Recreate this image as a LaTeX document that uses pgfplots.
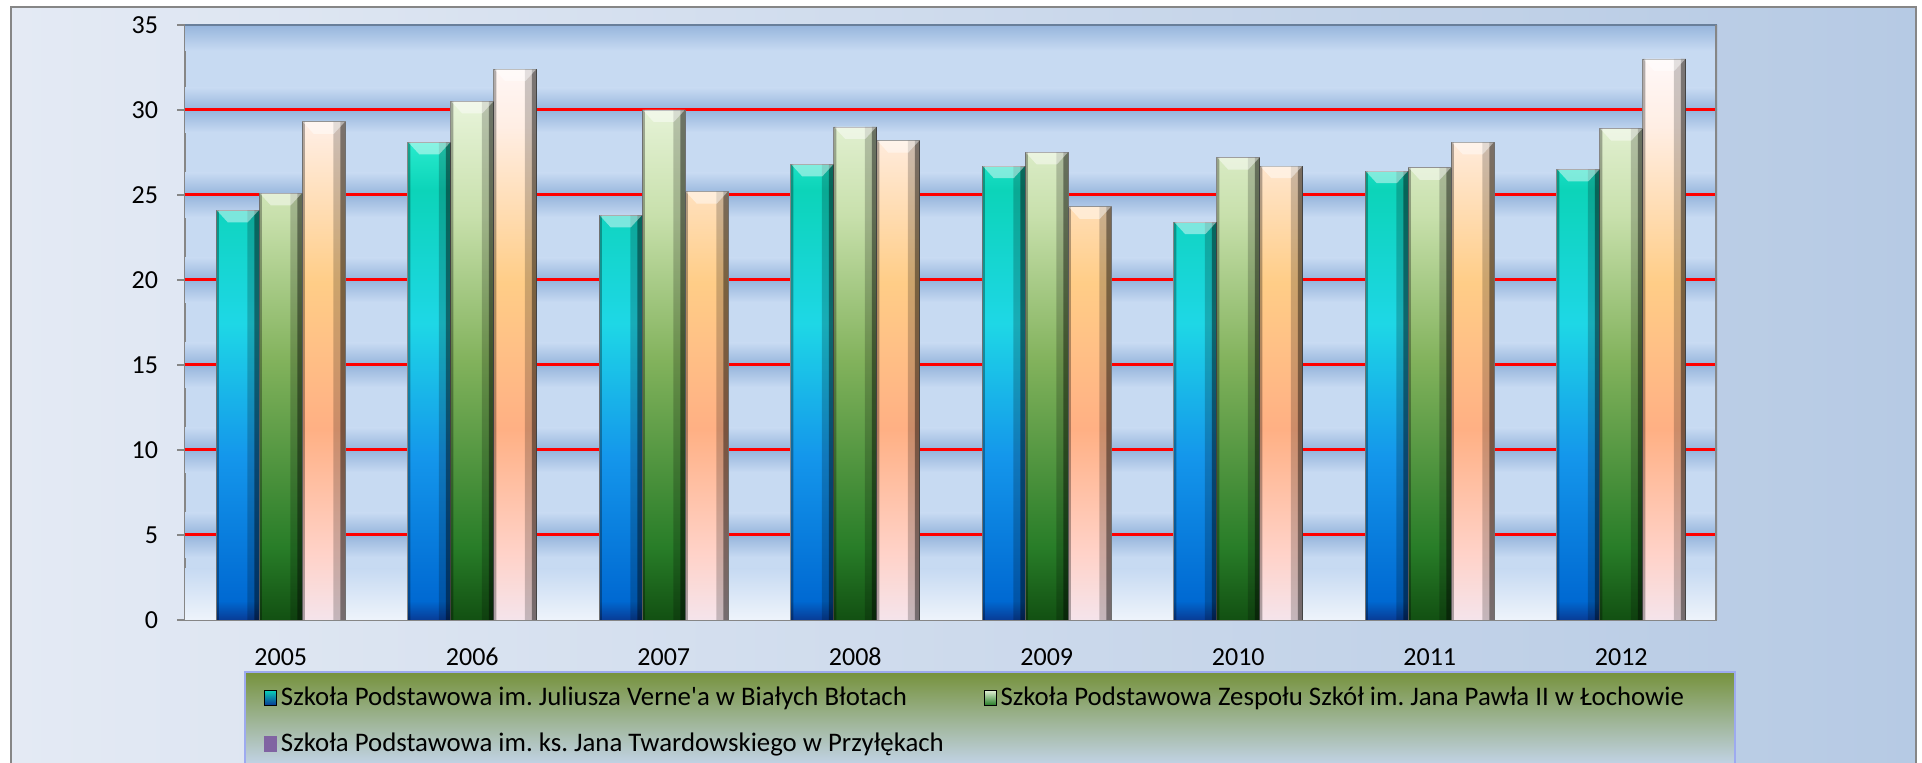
\documentclass[border=0pt]{standalone}
\usepackage{pgfplots}
\pgfplotsset{compat=1.18}
\usepackage{fontspec}
\setmainfont{Carlito}[Ligatures=TeXOff]
\frenchspacing

\definecolor{bgL}{RGB}{228,234,244}
\definecolor{bgR}{RGB}{182,202,228}
\definecolor{frame}{RGB}{134,134,134}
\definecolor{plotL}{RGB}{199,218,242}
\definecolor{plotD}{RGB}{150,181,220}
\definecolor{legG}{RGB}{118,146,60}
\definecolor{legB}{RGB}{196,213,235}
% blue bars
\definecolor{b0}{RGB}{8,60,150}
\definecolor{b1}{RGB}{0,105,210}
\definecolor{b2}{RGB}{20,150,235}
\definecolor{b3}{RGB}{30,215,230}
\definecolor{b4}{RGB}{12,212,185}
\definecolor{b5}{RGB}{40,235,205}
% green bars
\definecolor{g0}{RGB}{18,80,18}
\definecolor{g1}{RGB}{40,125,40}
\definecolor{g2}{RGB}{130,178,92}
\definecolor{g3}{RGB}{200,224,172}
\definecolor{g4}{RGB}{232,244,218}
% peach bars
\definecolor{p0}{RGB}{245,228,235}
\definecolor{p1}{RGB}{255,210,200}
\definecolor{p2}{RGB}{255,176,132}
\definecolor{p3}{RGB}{255,205,135}
\definecolor{p4}{RGB}{255,238,228}
\definecolor{p5}{RGB}{255,248,248}
\definecolor{purp}{RGB}{128,100,162}

\pgfdeclareverticalshading{blueBar}{100bp}{color(0bp)=(b0); color(25bp)=(b0); color(27bp)=(b1); color(42bp)=(b2); color(56bp)=(b3); color(70bp)=(b4); color(75bp)=(b5); color(100bp)=(b5)}
\pgfdeclareverticalshading{greenBar}{100bp}{color(0bp)=(g0); color(25bp)=(g0); color(32bp)=(g1); color(50bp)=(g2); color(64bp)=(g3); color(75bp)=(g4); color(100bp)=(g4)}
\pgfdeclareverticalshading{peachBar}{100bp}{color(0bp)=(p0); color(25bp)=(p0); color(31bp)=(p1); color(42bp)=(p2); color(55bp)=(p3); color(69bp)=(p4); color(75bp)=(p5); color(100bp)=(p5)}

% bevel highlights at the top of each bar
\newcommand\bevelmark[1]{%
  \pgfpathmoveto{\pgfpoint{#1pt-10.5pt}{0pt}}%
  \pgfpathlineto{\pgfpoint{#1pt+10.5pt}{0pt}}%
  \pgfpathlineto{\pgfpoint{#1pt+5pt}{-6pt}}%
  \pgfpathlineto{\pgfpoint{#1pt-5pt}{-6pt}}%
  \pgfpathclose\pgfusepathqfill}
\pgfdeclareplotmark{bevelA}{\bevelmark{-21.5}}
\pgfdeclareplotmark{bevelB}{\bevelmark{0}}
\pgfdeclareplotmark{bevelC}{\bevelmark{21.5}}

\pgfplotstableread{
x s1 s2 s3
0 24.1 25.1 29.3
1 28.1 30.5 32.4
2 23.8 30.0 25.2
3 26.8 29.0 28.2
4 26.7 27.5 24.3
5 23.4 27.2 26.7
6 26.4 26.6 28.1
7 26.5 28.9 33.0
}\datatable

\pgfplotsset{
  shadowA/.style={ybar, bar width=6pt, draw=none, fill=black, fill opacity=0.2, forget plot},
  shadowB/.style={ybar, bar width=2.5pt, draw=none, fill=black, fill opacity=0.4, forget plot},
  edgeL/.style={ybar, bar width=1.2pt, draw=none, fill=black, fill opacity=0.3, forget plot},
  bevel/.style={only marks, mark=#1, mark options={fill=white, fill opacity=0.45, draw=none}, forget plot},
}

\begin{document}
\begin{tikzpicture}[x=1pt,y=1pt]
\useasboundingbox (0,0) rectangle (961,381.5);
\fill[white] (0,0) rectangle (961,381.5);
\shade[left color=bgL, right color=bgR] (5.5,-5) rectangle (958,378);
\draw[frame, line width=1pt] (5.5,-5) rectangle (958,378);
\shade[top color=legG, bottom color=legB] (122.5,-2) rectangle (867.5,45.5);
\draw[legB!80!blue, line width=0.6pt] (122.5,-2) rectangle (867.5,45.5);
\begin{axis}[
  at={(92.5pt,71.5pt)}, anchor=south west,
  scale only axis, width=766pt, height=297.5pt,
  xmin=-0.5, xmax=7.5, ymin=0, ymax=35,
  axis x line*=bottom, axis y line*=left,
  axis line style={draw=frame, line width=1pt},
  axis background/.style={fill=plotL},
  xtick={0,...,7}, xticklabels={2005,2006,2007,2008,2009,2010,2011,2012},
  major x tick style={draw=none},
  extra x ticks={-0.5,0.5,1.5,2.5,3.5,4.5,5.5,6.5,7.5},
  extra x tick labels={},
  extra x tick style={major tick style={draw=frame, line width=1pt}},
  ytick={0,5,...,35},
  tick align=outside, major tick length=4pt,
  y tick style={draw=frame, line width=1pt},
  tick label style={font=\fontsize{13}{15}\selectfont},
  /pgf/number format/assume math mode=true,
  yticklabel style={xshift=-6pt},
  xticklabel style={yshift=-6pt, text height=9pt, text depth=2pt},
  legend style={at={(0.0475,-0.098)}, anchor=north west, draw=none, fill=none,
    font=\fontsize{13.4}{15}\selectfont, legend columns=2,
    /tikz/every even column/.append style={column sep=18pt}, row sep=8.3pt},
  legend cell align=left,
]
% background bands
\shade[bottom color=white!70!plotL, top color=plotL] (axis cs:-0.5,0) rectangle (axis cs:7.5,3);
\pgfplotsinvokeforeach{5,10,15,20,25,30}{
  \shade[bottom color=plotD, top color=plotL] (axis cs:-0.5,#1) rectangle (axis cs:7.5,#1+1.3);
  \shade[top color=plotD, bottom color=plotL] (axis cs:-0.5,#1-1.3) rectangle (axis cs:7.5,#1);
}
\shade[top color=plotD, bottom color=plotL] (axis cs:-0.5,33.5) rectangle (axis cs:7.5,35);
\pgfplotsinvokeforeach{5,10,15,20,25,30}{
  \draw[red, line width=1.5pt] (axis cs:-0.5,#1) -- (axis cs:7.5,#1);
}
\draw[plotD!70!black, line width=0.8pt] (axis cs:-0.5,35) -- (axis cs:7.5,35);
\draw[frame, line width=2.5pt] (axis cs:7.5,0) -- (axis cs:7.5,35);

% bars
\addplot[ybar, bar width=21.5pt, bar shift=-21.5pt, shade, shading=blueBar, draw=black!45, line width=0.4pt, forget plot] table[x=x,y=s1] {\datatable};
\addplot[ybar, bar width=21.5pt, bar shift=0pt, shade, shading=greenBar, draw=black!45, line width=0.4pt, forget plot] table[x=x,y=s2] {\datatable};
\addplot[ybar, bar width=21.5pt, bar shift=21.5pt, shade, shading=peachBar, draw=black!45, line width=0.4pt, forget plot] table[x=x,y=s3] {\datatable};
% 3D edge shadows
\addplot[shadowA, bar shift=-13.75pt] table[x=x,y=s1] {\datatable};
\addplot[shadowA, bar shift=7.75pt] table[x=x,y=s2] {\datatable};
\addplot[shadowA, bar shift=29.25pt] table[x=x,y=s3] {\datatable};
\addplot[shadowB, bar shift=-12pt] table[x=x,y=s1] {\datatable};
\addplot[shadowB, bar shift=9.5pt] table[x=x,y=s2] {\datatable};
\addplot[shadowB, bar shift=31pt] table[x=x,y=s3] {\datatable};
\addplot[edgeL, bar shift=-31.6pt] table[x=x,y=s1] {\datatable};
\addplot[edgeL, bar shift=-10.1pt] table[x=x,y=s2] {\datatable};
\addplot[edgeL, bar shift=11.4pt] table[x=x,y=s3] {\datatable};
% top bevels
\addplot[bevel=bevelA] table[x=x,y=s1] {\datatable};
\addplot[bevel=bevelB] table[x=x,y=s2] {\datatable};
\addplot[bevel=bevelC] table[x=x,y=s3] {\datatable};

\addlegendimage{legend image code/.code={\shade[top color=b4, bottom color=b0] (0pt,-3.75pt) rectangle (6pt,3.75pt);}}
\addlegendentry{Szkoła Podstawowa im. Juliusza Verne'a w Białych Błotach}
\addlegendimage{legend image code/.code={\shade[top color=g4, bottom color=g1] (0pt,-3.75pt) rectangle (6pt,3.75pt);}}
\addlegendentry{Szkoła Podstawowa Zespołu Szkół im. Jana Pawła II w Łochowie}
\addlegendimage{legend image code/.code={\fill[purp] (0pt,-3.75pt) rectangle (6pt,3.75pt);}}
\addlegendentry{Szkoła Podstawowa im. ks. Jana Twardowskiego w Przyłękach}
\end{axis}
\end{tikzpicture}
\end{document}
